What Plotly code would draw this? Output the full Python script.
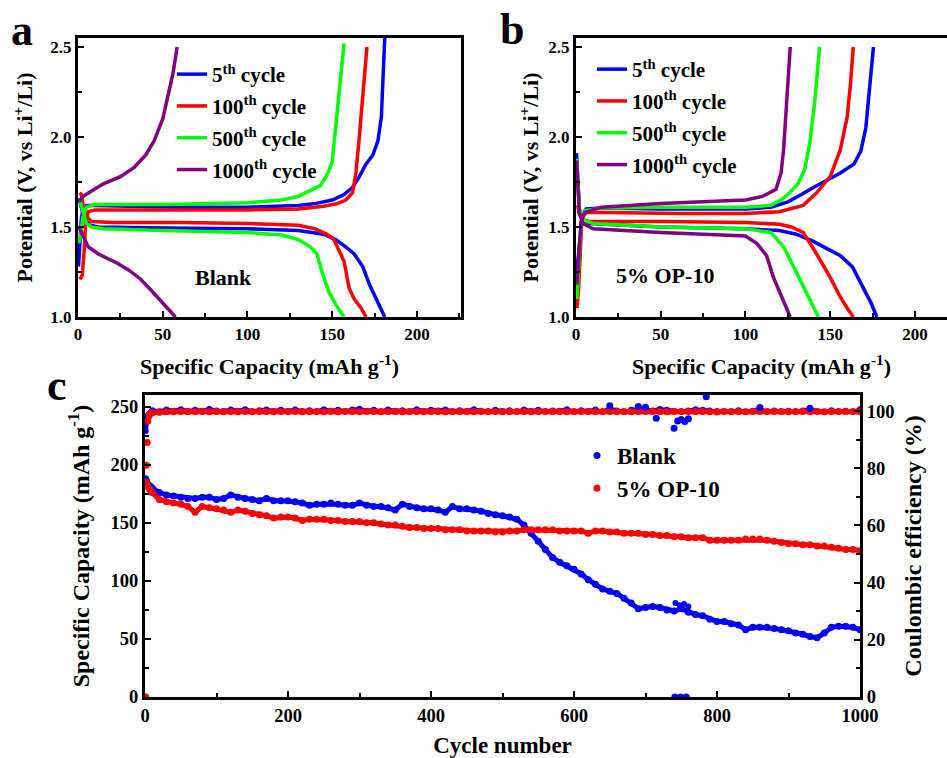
import plotly.graph_objects as go

# ---------------- Panel a (Blank) ----------------
a5_up_x = [0.3, 1, 2, 3, 5, 10, 30, 60, 100, 130, 140, 150, 157, 162, 166, 170, 174, 177, 179, 180, 181]
a5_up_y = [1.28, 1.40, 1.55, 1.60, 1.62, 1.62, 1.615, 1.61, 1.61, 1.62, 1.63, 1.65, 1.68, 1.72, 1.78, 1.85, 1.90, 1.98, 2.11, 2.30, 2.55]
a5_dn_x = [0.5, 2, 4, 7, 12, 50, 100, 130, 145, 152, 158, 163, 168, 172, 176, 181]
a5_dn_y = [1.66, 1.60, 1.54, 1.51, 1.50, 1.495, 1.49, 1.48, 1.46, 1.43, 1.39, 1.35, 1.28, 1.18, 1.10, 1.0]

a100_up_x = [1.0, 2.5, 3.5, 4.5, 6, 10, 50, 100, 130, 145, 153, 158, 162, 164, 166, 168, 169.5, 170.5]
a100_up_y = [1.21, 1.23, 1.35, 1.52, 1.585, 1.595, 1.595, 1.595, 1.60, 1.615, 1.63, 1.65, 1.69, 1.80, 2.00, 2.20, 2.40, 2.50]
a100_dn_x = [1.0, 2, 3, 5, 8, 20, 60, 100, 130, 140, 147, 151, 154, 157, 160, 163, 167, 170]
a100_dn_y = [1.69, 1.68, 1.62, 1.56, 1.53, 1.525, 1.525, 1.52, 1.51, 1.49, 1.46, 1.43, 1.37, 1.31, 1.16, 1.10, 1.05, 1.0]

a500_up_x = [0.5, 1.5, 3, 5, 10, 50, 100, 120, 130, 137, 143, 147, 150, 152, 154, 156, 157]
a500_up_y = [1.41, 1.45, 1.56, 1.61, 1.625, 1.625, 1.635, 1.65, 1.67, 1.70, 1.73, 1.79, 1.86, 2.05, 2.25, 2.45, 2.52]
a500_dn_x = [1, 3, 5, 8, 15, 50, 100, 120, 130, 137, 141, 144, 148, 152, 157]
a500_dn_y = [1.65, 1.58, 1.52, 1.50, 1.49, 1.48, 1.47, 1.455, 1.43, 1.39, 1.35, 1.25, 1.14, 1.07, 1.0]

a1000_up_x = [0.5, 3, 8, 15, 25, 33, 40, 45, 50, 53, 56, 58.5]
a1000_up_y = [1.64, 1.67, 1.70, 1.74, 1.78, 1.83, 1.90, 1.98, 2.10, 2.22, 2.35, 2.50]
a1000_dn_x = [0.5, 3, 6, 12, 23, 30, 37, 43, 48, 53, 57.5]
a1000_dn_y = [1.50, 1.45, 1.39, 1.35, 1.30, 1.26, 1.21, 1.15, 1.10, 1.05, 1.0]

# ---------------- Panel b (5% OP-10) ----------------
b5_up_x = [0.5, 2, 3.5, 6, 15, 50, 100, 115, 125, 133, 140, 148, 156, 164, 168, 171, 173.5, 175.5]
b5_up_y = [1.25, 1.40, 1.55, 1.60, 1.605, 1.60, 1.60, 1.61, 1.64, 1.68, 1.72, 1.76, 1.80, 1.85, 1.92, 2.05, 2.30, 2.50]
b5_dn_x = [0.3, 1, 2, 4, 8, 50, 100, 120, 130, 140, 148, 156, 163, 167, 170, 174, 177.5]
b5_dn_y = [1.91, 1.75, 1.60, 1.54, 1.52, 1.50, 1.49, 1.48, 1.46, 1.42, 1.38, 1.34, 1.28, 1.21, 1.15, 1.08, 1.0]

b100_up_x = [0.5, 1.5, 2.5, 3.5, 6, 20, 60, 100, 120, 134, 142, 150, 156, 160, 162, 163.6]
b100_up_y = [1.05, 1.15, 1.35, 1.55, 1.58, 1.58, 1.575, 1.575, 1.585, 1.62, 1.69, 1.78, 1.93, 2.11, 2.30, 2.50]
b100_dn_x = [1, 2, 4, 8, 50, 100, 120, 127, 134, 142, 150, 156, 160, 163.6]
b100_dn_y = [1.62, 1.57, 1.54, 1.53, 1.53, 1.525, 1.515, 1.50, 1.47, 1.35, 1.22, 1.11, 1.05, 1.0]

b500_up_x = [0.5, 1.5, 3, 5, 15, 50, 100, 115, 121, 126, 131, 135, 138, 141, 143.7]
b500_up_y = [1.10, 1.30, 1.52, 1.59, 1.605, 1.61, 1.61, 1.62, 1.65, 1.69, 1.74, 1.82, 1.97, 2.21, 2.50]
b500_dn_x = [0.3, 1, 2, 4, 10, 50, 100, 115, 122.5, 128.4, 134, 139, 143]
b500_dn_y = [1.88, 1.72, 1.60, 1.54, 1.52, 1.50, 1.49, 1.47, 1.39, 1.28, 1.17, 1.08, 1.0]

b1000_up_x = [0.5, 1.5, 3, 5, 15, 50, 100, 110, 118, 121, 122.5, 124.4, 126.4]
b1000_up_y = [1.18, 1.35, 1.53, 1.58, 1.61, 1.63, 1.65, 1.67, 1.71, 1.80, 1.93, 2.21, 2.50]
b1000_dn_x = [0.3, 1, 2, 4, 10, 50, 100, 106.6, 112.5, 116.5, 120, 122.5, 126.4]
b1000_dn_y = [1.87, 1.70, 1.58, 1.52, 1.49, 1.47, 1.45, 1.41, 1.34, 1.22, 1.14, 1.09, 1.0]

# ---------------- Panel c (cycling) ----------------
cycles = [1, 2, 3, 4, 6, 8] + list(range(10, 1001, 10))

cap_blank = [188, 186, 184, 183, 182, 181,
             180, 176, 174, 173, 172, 171, 171, 172, 172, 170,
             171, 174, 172, 171, 170, 169, 171, 169, 169, 169,
             168, 167, 165, 166, 166, 167, 166, 165, 165, 167,
             165, 164, 164, 163, 161, 166, 164, 163, 162, 162,
             161, 159, 164, 162, 162, 161, 160, 158, 157, 156,
             155, 153, 148, 141, 134, 127, 120, 116, 113, 110,
             106, 101, 97, 93, 91, 89, 85, 81, 76, 77,
             78, 77, 75, 74, 76, 73, 71, 70, 67, 65,
             65, 63, 62, 58, 60, 60, 60, 59, 58, 57,
             55, 54, 52, 51, 55, 60, 61, 61, 60, 58]
cap_blank_outlier_cycles = [742, 748, 754, 760]
cap_blank_outlier = [81, 79, 80, 78]

cap_op10 = [185, 184, 182, 181, 179, 178,
            176, 170, 168, 167, 166, 164, 159, 164, 163, 162,
            161, 159, 161, 160, 158, 157, 156, 154, 155, 155,
            154, 152, 153, 153, 153, 152, 152, 151, 151, 151,
            150, 150, 149, 148, 148, 147, 146, 146, 145, 145,
            145, 144, 144, 144, 143, 143, 143, 143, 142, 142,
            143, 143, 144, 144, 144, 144, 144, 143, 143, 143,
            143, 141, 143, 143, 142, 142, 141, 141, 141, 140,
            140, 139, 139, 138, 138, 137, 137, 137, 135, 135,
            135, 135, 135, 136, 136, 136, 135, 134, 133, 132,
            132, 131, 131, 130, 130, 129, 128, 127, 127, 126]

ce_blank = [93, 96, 97.5, 98.5, 99, 99.5,
            100.3, 99.9, 100.5, 100.1, 100.6, 100.0, 100.4, 100.1, 100.7, 100.2,
            100.0, 100.5, 100.1, 100.6, 99.9, 100.3, 100.5, 100.0, 100.4, 100.0,
            100.5, 100.0, 100.3, 99.9, 100.6, 100.1, 100.4, 100.0, 100.5, 100.8,
            100.1, 100.4, 99.9, 100.5, 100.1, 100.3, 99.9, 100.6, 100.0, 100.4,
            100.2, 100.5, 99.9, 100.3, 100.0, 100.6, 100.1, 99.8, 100.4, 100.0,
            100.3, 99.8, 100.5, 100.0, 100.4, 99.9, 100.2, 100.1, 100.6, 99.8,
            100.3, 100.0, 100.5, 99.7, 100.9, 100.2, 99.6, 100.4, 100.8, 100.6,
            100.2, 100.7, 100.4, 100.0, 99.8, 100.2, 100.6, 100.4, 100.2, 99.5,
            100.0, 99.7, 100.3, 99.8, 100.1, 100.8, 99.7, 100.2, 99.8, 100.1,
            99.7, 100.2, 100.7, 100.0, 99.6, 100.3, 99.8, 100.1, 99.7, 100.6]
ce_blank_outlier_cycles = [650, 690, 700, 715, 740, 745, 750, 755, 760, 785, 860, 930, 741, 749, 757]
ce_blank_outlier = [101.8, 101.6, 101.3, 97.5, 94.0, 96.5, 97.0, 96.3, 97.3, 105.0, 101.2, 101.0, 0, 0, 0]

ce_op10_early_cycles = [1, 2, 3]
ce_op10_early = [0, 81, 89]
ce_op10 = [None, None, None, 96.5, 98.5, 99.2,
           99.4, 99.6, 99.7, 99.7, 99.8, 99.7, 99.7, 99.8, 99.7, 99.8,
           99.7, 99.8, 99.7, 99.8, 99.7, 99.8, 99.8, 99.7, 99.8, 99.7,
           99.8, 99.7, 99.8, 99.8, 99.7, 99.8, 99.7, 99.8, 99.8, 99.7,
           99.8, 99.8, 99.7, 99.8, 99.8, 99.7, 99.8, 99.8, 99.7, 99.8,
           99.8, 99.7, 99.8, 99.8, 99.8, 99.7, 99.8, 99.8, 99.8, 99.7,
           99.8, 99.8, 99.8, 99.7, 99.8, 99.8, 99.8, 99.8, 99.7, 99.8,
           99.8, 99.8, 99.7, 99.8, 99.8, 99.8, 99.8, 99.7, 99.8, 99.8,
           99.8, 99.8, 99.7, 99.8, 99.8, 99.8, 99.8, 99.8, 99.7, 99.8,
           99.8, 99.8, 99.8, 99.7, 99.8, 99.8, 99.8, 99.8, 99.8, 99.7,
           99.8, 99.8, 99.8, 99.8, 99.7, 99.8, 99.8, 99.8, 99.8, 99.7]

cycle_names = ["5<sup>th</sup> cycle", "100<sup>th</sup> cycle", "500<sup>th</sup> cycle", "1000<sup>th</sup> cycle"]
cycle_colors = ["#0000FF", "#FF0000", "#00FF00", "#800080"]

SERIF = "Liberation Serif, Times New Roman, serif"

def tf(size):
    return dict(family=SERIF, size=size, color="black", weight="bold")

fig = go.Figure()

def join(ux, uy, dx, dy):
    return list(ux) + [None] + list(dx), list(uy) + [None] + list(dy)

panel_a = [(a5_up_x, a5_up_y, a5_dn_x, a5_dn_y), (a100_up_x, a100_up_y, a100_dn_x, a100_dn_y),
           (a500_up_x, a500_up_y, a500_dn_x, a500_dn_y), (a1000_up_x, a1000_up_y, a1000_dn_x, a1000_dn_y)]
panel_b = [(b5_up_x, b5_up_y, b5_dn_x, b5_dn_y), (b100_up_x, b100_up_y, b100_dn_x, b100_dn_y),
           (b500_up_x, b500_up_y, b500_dn_x, b500_dn_y), (b1000_up_x, b1000_up_y, b1000_dn_x, b1000_dn_y)]

for i, d in enumerate(panel_a):
    x, y = join(*d)
    fig.add_trace(go.Scatter(x=x, y=y, mode="lines", name=cycle_names[i],
                             line=dict(color=cycle_colors[i], width=3.5),
                             xaxis="x", yaxis="y", legend="legend", legendgroup="a%d" % i))
for i, d in enumerate(panel_b):
    x, y = join(*d)
    fig.add_trace(go.Scatter(x=x, y=y, mode="lines", name=cycle_names[i],
                             line=dict(color=cycle_colors[i], width=3.5),
                             xaxis="x2", yaxis="y2", legend="legend2", legendgroup="b%d" % i))

BLUE, RED = "#0000FF", "#FF0000"
band = dict(mode="lines+markers", xaxis="x3", legend="legend3", showlegend=False)

# panel c dense scatter bands
fig.add_trace(go.Scatter(x=cycles, y=cap_blank, name="Blank", yaxis="y3", legendgroup="c0",
                         marker=dict(color=BLUE, size=7, line=dict(width=0)),
                         line=dict(color=BLUE, width=5), **band))
fig.add_trace(go.Scatter(x=cycles, y=ce_blank, name="Blank", yaxis="y4", legendgroup="c0",
                         marker=dict(color=BLUE, size=6, line=dict(width=0)),
                         line=dict(color=BLUE, width=4), **band))
fig.add_trace(go.Scatter(x=cycles, y=cap_op10, name="5% OP-10", yaxis="y3", legendgroup="c1",
                         marker=dict(color=RED, size=7, line=dict(width=0)),
                         line=dict(color=RED, width=5), **band))
fig.add_trace(go.Scatter(x=cycles, y=ce_op10, name="5% OP-10", yaxis="y4", legendgroup="c1",
                         marker=dict(color=RED, size=7, line=dict(width=0)),
                         line=dict(color=RED, width=5), **band))
# isolated points (carry the legend entries, markers only)
fig.add_trace(go.Scatter(x=ce_blank_outlier_cycles, y=ce_blank_outlier, mode="markers", name="Blank",
                         marker=dict(color=BLUE, size=7, line=dict(width=0)), xaxis="x3", yaxis="y4",
                         legend="legend3", legendgroup="c0", legendrank=1))
fig.add_trace(go.Scatter(x=cap_blank_outlier_cycles, y=cap_blank_outlier, mode="markers", showlegend=False,
                         marker=dict(color=BLUE, size=6, line=dict(width=0)), xaxis="x3", yaxis="y3",
                         legend="legend3", legendgroup="c0"))
fig.add_trace(go.Scatter(x=ce_op10_early_cycles, y=ce_op10_early, mode="markers", name="5% OP-10",
                         marker=dict(color=RED, size=7, line=dict(width=0)), xaxis="x3", yaxis="y4",
                         legend="legend3", legendgroup="c1", legendrank=2))

W, H = 947, 758

def px(xp):
    return xp / W

def py(yp):
    return 1 - yp / H

common = dict(showline=True, linecolor="black", linewidth=3, ticks="inside", ticklen=6, tickwidth=2,
              tickcolor="black", showgrid=False, zeroline=False)

def minor(dt):
    return dict(ticks="inside", ticklen=4, tickwidth=2, dtick=dt, tickcolor="black")

fig.update_layout(
    width=W, height=H, template="none",
    margin=dict(l=0, r=0, t=0, b=0, autoexpand=False),
    paper_bgcolor="white", plot_bgcolor="white",
    font=dict(family=SERIF, color="black"),
    xaxis=dict(domain=[px(78), px(461)], range=[0, 226], anchor="y", mirror=True,
               dtick=50, tickfont=tf(17), minor=minor(25),
               title=dict(text="Specific Capacity (mAh g<sup>-1</sup>)", font=tf(22), standoff=16), **common),
    yaxis=dict(domain=[py(317), py(38)], range=[1.0, 2.55], anchor="x", mirror=True,
               dtick=0.5, tickformat=".1f", tickfont=tf(17), minor=minor(0.25),
               title=dict(text="Potential (V, vs Li<sup>+</sup>/Li)", font=tf(22), standoff=12), **common),
    xaxis2=dict(domain=[px(576), 1.0], range=[0, 218.9], anchor="y2", mirror=True,
                dtick=50, tickfont=tf(17), minor=minor(25),
                title=dict(text="Specific Capacity (mAh g<sup>-1</sup>)", font=tf(22), standoff=16), **common),
    yaxis2=dict(domain=[py(317), py(38)], range=[1.0, 2.55], anchor="x2", mirror=False,
                dtick=0.5, tickformat=".1f", tickfont=tf(17), minor=minor(0.25),
                title=dict(text="Potential (V, vs Li<sup>+</sup>/Li)", font=tf(22), standoff=4), **common),
    xaxis3=dict(domain=[px(145), px(860)], range=[0, 1000], anchor="y3", mirror=True,
                dtick=200, tickfont=tf(18.5), minor=minor(100),
                title=dict(text="Cycle number", font=tf(23), standoff=13), **common),
    yaxis3=dict(domain=[py(697), py(395)], range=[0, 260], anchor="x3",
                dtick=50, tickfont=tf(18.5), minor=minor(25),
                title=dict(text="Specific Capacity (mAh g<sup>-1</sup>)", font=tf(24), standoff=15), **common),
    yaxis4=dict(domain=[py(697), py(395)], range=[0, 105.6], anchor="x3", overlaying="y3", side="right",
                dtick=20, tickfont=tf(18.5), minor=minor(10),
                title=dict(text="Coulombic efficiency (%)", font=tf(24), standoff=11), **common),
    legend=dict(x=px(172), y=py(54), xanchor="left", yanchor="top", bgcolor="rgba(0,0,0,0)",
                font=tf(21), tracegroupgap=1.5, itemwidth=30, traceorder="grouped"),
    legend2=dict(x=px(592), y=py(49), xanchor="left", yanchor="top", bgcolor="rgba(0,0,0,0)",
                 font=tf(21), tracegroupgap=1.5, itemwidth=30, traceorder="grouped"),
    legend3=dict(x=px(577), y=py(434), xanchor="left", yanchor="top", bgcolor="rgba(0,0,0,0)",
                 font=tf(23), tracegroupgap=0, itemwidth=30, traceorder="grouped"),
    annotations=[
        dict(text="a", x=px(22), y=py(30), xref="paper", yref="paper", showarrow=False,
             xanchor="center", yanchor="middle", font=tf(44)),
        dict(text="b", x=px(512), y=py(29), xref="paper", yref="paper", showarrow=False,
             xanchor="center", yanchor="middle", font=tf(44)),
        dict(text="c", x=px(57), y=py(385), xref="paper", yref="paper", showarrow=False,
             xanchor="center", yanchor="middle", font=tf(44)),
        dict(text="Blank", x=px(223), y=py(278), xref="paper", yref="paper", showarrow=False,
             xanchor="center", yanchor="middle", font=tf(22)),
        dict(text="5% OP-10", x=px(665), y=py(275), xref="paper", yref="paper", showarrow=False,
             xanchor="center", yanchor="middle", font=tf(22)),
    ],
)

fig.write_html("out.html")
